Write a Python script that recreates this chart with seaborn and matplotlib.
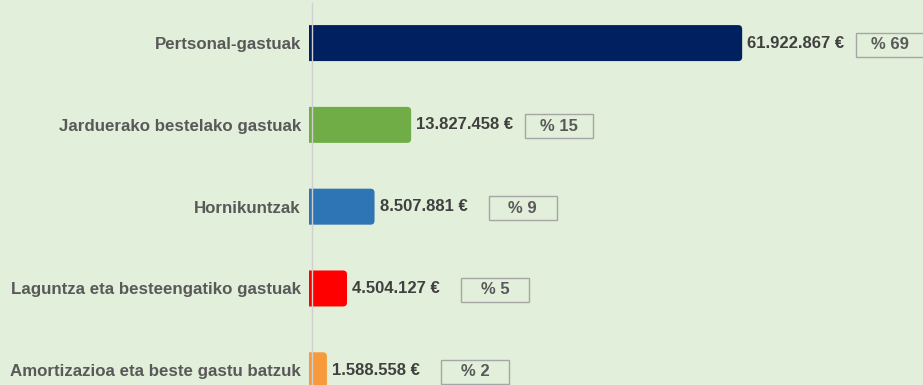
import matplotlib
matplotlib.use("Agg")
import matplotlib.pyplot as plt
import seaborn as sns
import pandas as pd
from matplotlib.patches import FancyBboxPatch, Rectangle

# Gastu motak eta zenbatekoak (€)
categories = [
    "Pertsonal-gastuak",
    "Jarduerako bestelako gastuak",
    "Hornikuntzak",
    "Laguntza eta besteengatiko gastuak",
    "Amortizazioa eta beste gastu batzuk",
]
amounts = [61922867, 13827458, 8507881, 4504127, 1588558]
percent_labels = ["% 69", "% 15", "% 9", "% 5", "% 2"]
bar_colors = ["#002060", "#70ad47", "#2e75b6", "#ff0000", "#f79a3b"]

BG = "#e2efda"
LABEL_GRAY = "#595959"
VALUE_GRAY = "#404040"

sns.set_theme(style="white")
plt.rcParams["font.family"] = ["Liberation Sans", "DejaVu Sans"]

W, H, DPI = 923, 385, 100
fig = plt.figure(figsize=(W / DPI, H / DPI), dpi=DPI)
fig.patch.set_facecolor(BG)

ax_left_px, ax_top_px = 312, 3
ax = fig.add_axes([ax_left_px / W, 0, (W - ax_left_px) / W, (H - ax_top_px) / H])
ax.set_facecolor(BG)

df = pd.DataFrame({"kategoria": categories, "zenbatekoa": amounts})
sns.barplot(
    data=df, x="zenbatekoa", y="kategoria", hue="kategoria",
    palette=bar_colors, legend=False, width=0.44, saturation=1, ax=ax,
)

ax.set_xlim(-0.58e6, 88.2e6)
ax.set_ylim(4.18, -0.49)

# pixel -> data conversion factors
ax_w_px = W - ax_left_px
ax_h_px = H - ax_top_px
x_per_px = (ax.get_xlim()[1] - ax.get_xlim()[0]) / ax_w_px
y_per_px = abs(ax.get_ylim()[0] - ax.get_ylim()[1]) / ax_h_px

# Rounded bars: right end rounded, left end cut square by a clip rectangle
radius_px = 4
x0 = -7 * x_per_px
bar_clip = Rectangle((x0, -5), 1e10, 20, transform=ax.transData)
for patch in list(ax.patches):
    y, h = patch.get_y(), patch.get_height()
    w = patch.get_width()
    color = patch.get_facecolor()
    patch.remove()
    start = x0 - 10 * x_per_px
    fb = FancyBboxPatch(
        (start, y), w - start, h,
        boxstyle=f"round,pad=0,rounding_size={radius_px * x_per_px}",
        mutation_aspect=y_per_px / x_per_px,
        facecolor=color, edgecolor="none", zorder=2,
    )
    ax.add_patch(fb)
    fb.set_clip_box(None)
    fb.set_clip_path(bar_clip)

# Value labels and percentage boxes
for i, (v, pct) in enumerate(zip(amounts, percent_labels)):
    txt = f"{v:,}".replace(",", ".") + " €"
    ax.annotate(txt, xy=(v, i), xytext=(5, 0), textcoords="offset pixels",
                ha="left", va="center", fontsize=12, fontweight="bold",
                color=VALUE_GRAY, zorder=4)
    bx = v + 114 * x_per_px
    bw = 68 * x_per_px
    bh = 24 * y_per_px
    cy = i + 1.5 * y_per_px
    ax.add_patch(Rectangle((bx, cy - bh / 2), bw, bh, facecolor="none",
                           edgecolor="#a6a6a6", linewidth=1.0, zorder=3,
                           clip_on=False))
    ax.text(bx + bw / 2, cy, pct, ha="center", va="center", fontsize=12,
            fontweight="bold", color=LABEL_GRAY, zorder=4)

# Axes styling
for side in ("top", "right", "bottom"):
    ax.spines[side].set_visible(False)
ax.spines["left"].set_color("#d0d0d0")
ax.spines["left"].set_linewidth(1.0)
ax.spines["left"].set_zorder(5)
ax.set_xticks([])
ax.set_xlabel("")
ax.set_ylabel("")
ax.tick_params(axis="y", length=0, pad=8)
for lbl in ax.get_yticklabels():
    lbl.set_fontweight("bold")
    lbl.set_fontsize(12.2)
    lbl.set_color(LABEL_GRAY)

fig.savefig("out.png", dpi=DPI, facecolor=BG)
